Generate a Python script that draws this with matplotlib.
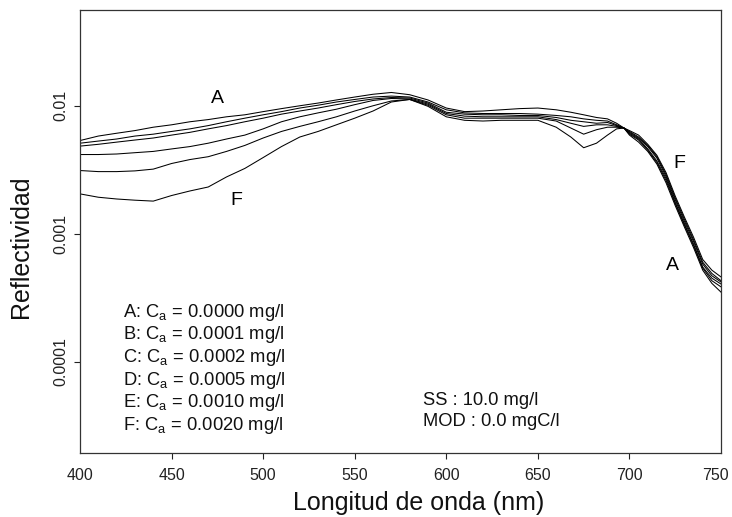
import matplotlib
matplotlib.use("Agg")
import matplotlib.pyplot as plt
import matplotlib.transforms as mtransforms

plt.rcParams["font.family"] = ["Liberation Sans", "DejaVu Sans"]
plt.rcParams["mathtext.fontset"] = "custom"
plt.rcParams["mathtext.rm"] = "Liberation Sans"
plt.rcParams["mathtext.it"] = "Liberation Sans:italic"

# Wavelength nodes (nm)
wavelength = [400, 410, 420, 430, 440, 450, 460, 470, 480, 490,
              500, 510, 520, 530, 540, 550, 560, 570, 580, 590,
              600, 610, 620, 630, 640, 650, 660, 668, 675, 682,
              688, 693, 697, 700, 705, 710, 715, 720, 725, 730,
              735, 740, 745, 750]

# Reflectance curves
refl_a = [0.00535, 0.0058, 0.0061, 0.0064, 0.0068, 0.0071, 0.0075, 0.0078, 0.0082, 0.0085,
          0.0090, 0.0095, 0.0100, 0.0105, 0.0111, 0.0117, 0.0123, 0.0127, 0.0122, 0.0111,
          0.0096, 0.0090, 0.0091, 0.0093, 0.0095, 0.0096, 0.0093, 0.0089, 0.0085, 0.0081,
          0.0079, 0.0073, 0.0067, 0.0059, 0.0052, 0.0044, 0.0035, 0.0025, 0.00166, 0.00113,
          0.00078, 0.00052, 0.00041, 0.00035]
refl_b = [0.0051, 0.0053, 0.0055, 0.0058, 0.0060, 0.0063, 0.0066, 0.0070, 0.0075, 0.0080,
          0.0085, 0.0090, 0.0096, 0.0101, 0.0107, 0.0112, 0.0117, 0.0119, 0.0117, 0.0107,
          0.0093, 0.0088, 0.0087, 0.0087, 0.0087, 0.0086, 0.0084, 0.0082, 0.0079, 0.0077,
          0.0076, 0.0071, 0.0067, 0.0060, 0.0054, 0.0045, 0.0036, 0.0026, 0.00172, 0.00117,
          0.00081, 0.00054, 0.00043, 0.000385]
refl_c = [0.00484, 0.0050, 0.0052, 0.0054, 0.0056, 0.0059, 0.0062, 0.0066, 0.0070, 0.0075,
          0.0080, 0.0086, 0.0091, 0.0096, 0.0102, 0.0108, 0.0113, 0.0116, 0.0115, 0.0105,
          0.0089, 0.0086, 0.0085, 0.0085, 0.0084, 0.0084, 0.0081, 0.0077, 0.0075, 0.0073,
          0.0074, 0.0070, 0.0067, 0.0061, 0.0055, 0.0046, 0.0037, 0.0027, 0.00176, 0.00120,
          0.00083, 0.00055, 0.00045, 0.000405]
refl_d = [0.00416, 0.00416, 0.0042, 0.0043, 0.0044, 0.0046, 0.0048, 0.0051, 0.0055, 0.0059,
          0.0066, 0.0075, 0.0082, 0.0088, 0.0094, 0.0102, 0.0110, 0.0114, 0.0113, 0.0103,
          0.0087, 0.0083, 0.0082, 0.0082, 0.0082, 0.0082, 0.0078, 0.0073, 0.0069, 0.0071,
          0.0071, 0.0069, 0.0067, 0.0062, 0.0056, 0.0048, 0.0039, 0.0028, 0.00184, 0.00125,
          0.00087, 0.00058, 0.00047, 0.00042]
refl_e = [0.00312, 0.00306, 0.00306, 0.0031, 0.0032, 0.00354, 0.0038, 0.0040, 0.0044, 0.0049,
          0.0056, 0.0063, 0.0069, 0.0075, 0.0082, 0.0091, 0.0100, 0.0109, 0.0112, 0.0101,
          0.0085, 0.0080, 0.0080, 0.0080, 0.0080, 0.0080, 0.0076, 0.0067, 0.0060, 0.0065,
          0.0068, 0.0068, 0.0067, 0.0063, 0.0057, 0.0049, 0.0040, 0.0029, 0.0019, 0.0013,
          0.0009, 0.0006, 0.00049, 0.00043]
refl_f = [0.00205, 0.00193, 0.00187, 0.00183, 0.00180, 0.00199, 0.00216, 0.00232, 0.00278, 0.00324,
          0.00394, 0.0048, 0.0057, 0.0063, 0.0071, 0.0080, 0.0091, 0.0107, 0.0112, 0.0099,
          0.0082, 0.0077, 0.0076, 0.0077, 0.0077, 0.0077, 0.0068, 0.0057, 0.0047, 0.0051,
          0.0059, 0.0066, 0.0067, 0.0064, 0.0059, 0.0050, 0.0041, 0.0030, 0.00197, 0.00135,
          0.00094, 0.00063, 0.00052, 0.00046]

legend_rows = ["A: C$_{\\mathrm{a}}$ = 0.0000 mg/l",
               "B: C$_{\\mathrm{a}}$ = 0.0001 mg/l",
               "C: C$_{\\mathrm{a}}$ = 0.0002 mg/l",
               "D: C$_{\\mathrm{a}}$ = 0.0005 mg/l",
               "E: C$_{\\mathrm{a}}$ = 0.0010 mg/l",
               "F: C$_{\\mathrm{a}}$ = 0.0020 mg/l"]

fig = plt.figure(figsize=(7.32, 5.17), dpi=100)
ax = fig.add_axes([0.1093, 0.1238, 0.8757, 0.8569])

for refl in [refl_a, refl_b, refl_c, refl_d, refl_e, refl_f]:
    ax.plot(wavelength, refl, color="black", linewidth=0.75)

ax.set_yscale("log")
ax.set_xlim(400, 750)
ax.set_ylim(1.94e-5, 0.056)

ax.set_xticks([400, 450, 500, 550, 600, 650, 700, 750])
ax.set_xticklabels(["400", "450", "500", "550", "600", "650", "700", "750"])
ax.set_yticks([0.0001, 0.001, 0.01])
ax.set_yticklabels(["0.0001", "0.001", "0.01"], rotation=90, va="center")
ax.yaxis.set_minor_locator(matplotlib.ticker.NullLocator())

ax.tick_params(axis="both", direction="out", length=4.5, width=0.8,
               labelsize=11.5, colors="#222222", pad=6)
ax.tick_params(axis="y", pad=4)
# no tick marks at the frame corners, keep the 750 label inside the picture
xt = ax.xaxis.get_major_ticks()
xt[0].tick1line.set_visible(False)
xt[-1].tick1line.set_visible(False)
lab = xt[-1].label1
lab.set_transform(lab.get_transform() + mtransforms.ScaledTranslation(-4 / 72, 0, fig.dpi_scale_trans))

for sp in ax.spines.values():
    sp.set_linewidth(0.9)
    sp.set_color("#333333")

ax.set_xlabel("Longitud de onda (nm)", fontsize=18, color="#111111")
ax.xaxis.set_label_coords(0.528, -0.086)
ax.set_ylabel("Reflectividad", fontsize=18, color="#111111")
ax.yaxis.set_label_coords(-0.073, 0.465)

# curve labels
ax.text(474.8, 0.0113, "A", fontsize=14, ha="center", va="center")
ax.text(485.2, 0.00183, "F", fontsize=14, ha="center", va="center")
ax.text(727.1, 0.00356, "F", fontsize=14, ha="center", va="center")
ax.text(723.3, 0.000569, "A", fontsize=14, ha="center", va="center")

# concentration list
for i, row in enumerate(legend_rows):
    ax.text(0.0666, 0.3081 - i * 0.0512, row, transform=ax.transAxes,
            fontsize=13.2, ha="left", va="baseline", color="#111111")

ax.text(0.5356, 0.1084, "SS : 10.0 mg/l", transform=ax.transAxes,
        fontsize=13.2, ha="left", va="baseline", color="#111111")
ax.text(0.5356, 0.0609, "MOD : 0.0 mgC/l", transform=ax.transAxes,
        fontsize=13.2, ha="left", va="baseline", color="#111111")

fig.savefig("out.png", dpi=100)
